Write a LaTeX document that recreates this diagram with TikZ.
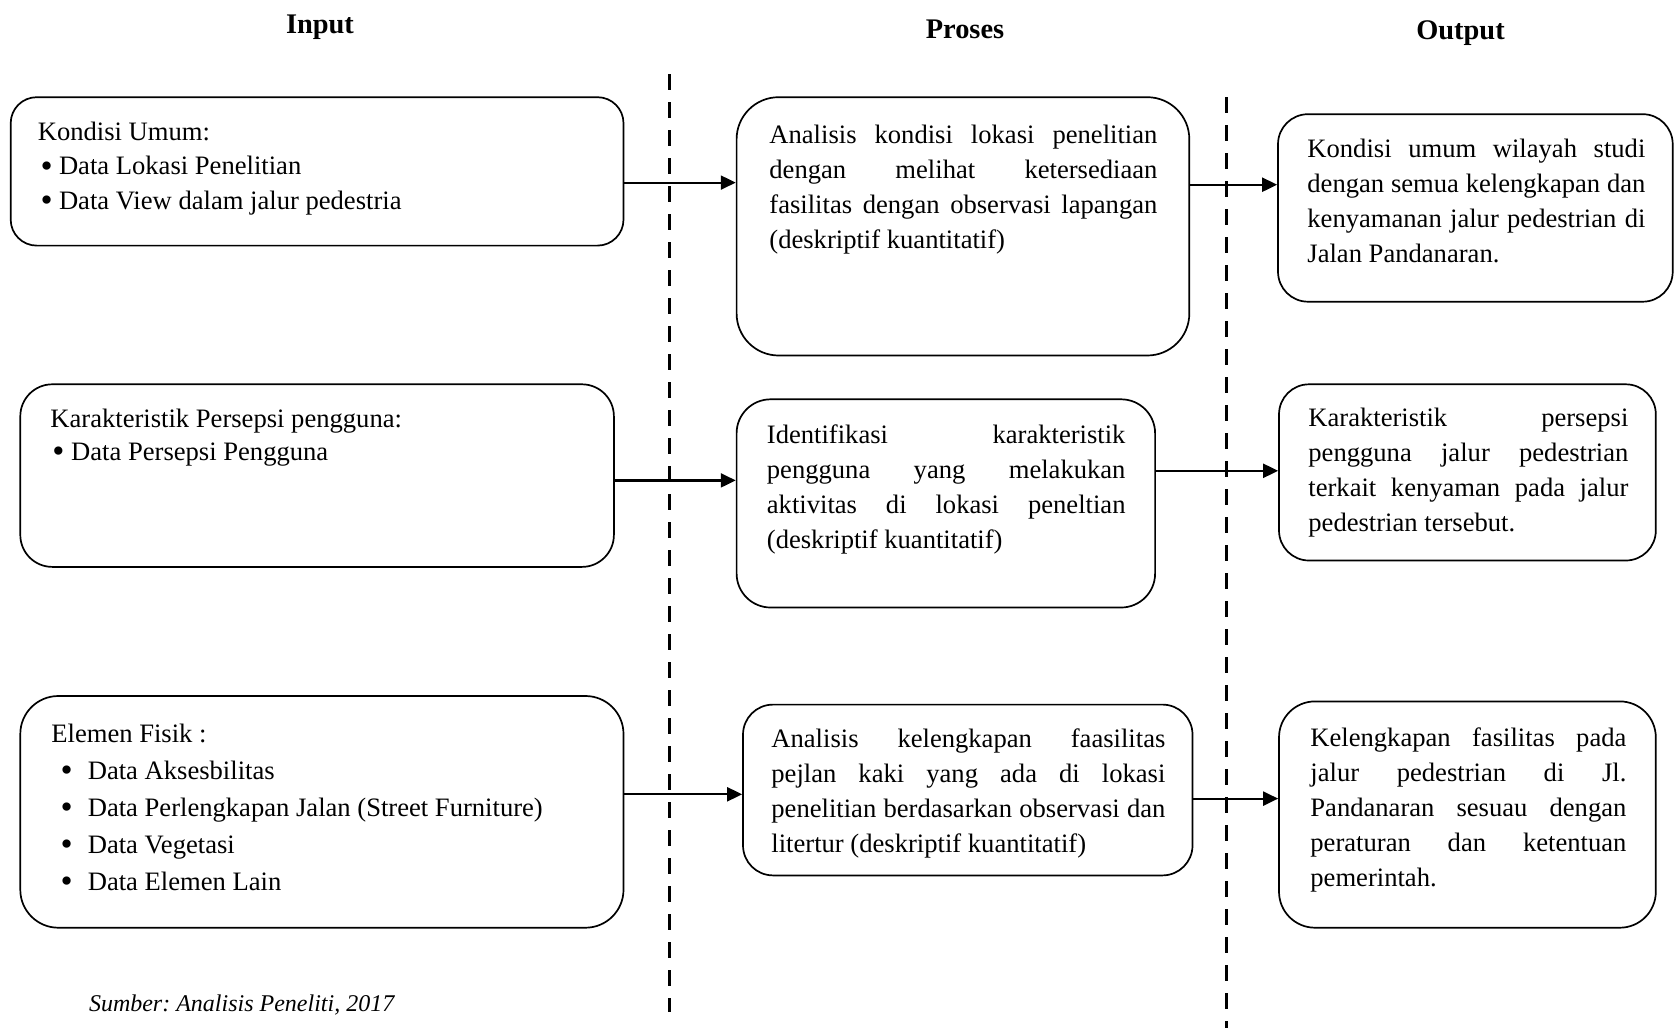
\documentclass[tikz,border=0pt]{standalone}
\usepackage{fontspec}
\usepackage{graphicx}
\setmainfont{Liberation Serif}
\usetikzlibrary{arrows.meta,fit}
\frenchspacing
\newcommand\tb[3]{\vtop{\hsize=#1\parindent=0pt\parskip=0pt\baselineskip=#2\relax #3}}
\newcommand\jl[1]{\makebox[\hsize][s]{#1}\par}
\newcommand\el[1]{#1\par}
\newcommand\bigbul{\raisebox{-0.09em}{\scalebox{1.3}{\textbullet}}}
\newcommand\bl[3]{\hspace*{#1}\makebox[#2][l]{\bigbul}#3\par}
\begin{document}
\begin{tikzpicture}[x=0.5pt,y=-0.5pt,
 box/.style={draw, line width=0.85pt, inner sep=0pt},
 txt/.style={inner sep=0pt, anchor=base west, font=\fontsize{13.3}{17.6}\selectfont},
 ttl/.style={inner sep=0pt, anchor=base, font=\fontsize{14.2}{16}\selectfont\bfseries},
 arr/.style={line width=1.1pt, -{Triangle[length=7.5pt,width=7pt]}},
 sepline/.style={line width=1.5pt, dash pattern=on 8pt off 6pt}]
\useasboundingbox (0,0) rectangle (1674,1028);
\fill[white] (0,0) rectangle (1674,1028);

% titles
\node[ttl] (tin) at (320,33) {Input};
\node[ttl] (tpr) at (965,38.4) {Proses};
\node[ttl] (tout) at (1460.5,39.5) {Output};

% separators
\draw[sepline] (669,74) -- (669,1012);
\draw[sepline] (1226,97) -- (1226,1028);

% input boxes
\node[box, rounded corners=13pt, fit={(10.7,97.2) (623.5,245.6)}] (a1) {};
\node[box, rounded corners=16pt, fit={(20.3,384.3) (613.9,566.9)}] (a2) {};
\node[box, rounded corners=19pt, fit={(20.3,696) (623.5,927.7)}] (a3) {};
% process boxes
\node[box, rounded corners=21pt, fit={(736.6,97.2) (1189.3,355.5)}] (p1) {};
\node[box, rounded corners=17pt, fit={(736.6,399.3) (1155.1,607.5)}] (p2) {};
\node[box, rounded corners=15pt, fit={(743,704.6) (1192.5,875.4)}] (p3) {};
% output boxes
\node[box, rounded corners=15pt, fit={(1278,114.2) (1672.7,301.7)}] (o1) {};
\node[box, rounded corners=15pt, fit={(1279,384.3) (1655.8,560.5)}] (o2) {};
\node[box, rounded corners=18pt, fit={(1279,701.4) (1655.8,927.7)}] (o3) {};

% texts
\node[txt] (a1t) at (37.4,140) {\tb{280pt}{17.4pt}{\el{Kondisi Umum:}\bl{1.4pt}{9.2pt}{Data Lokasi Penelitian}\bl{1.4pt}{9.2pt}{Data View dalam jalur pedestria}}};
\node[txt] (a2t) at (50,427) {\tb{280pt}{16.6pt}{\el{Karakteristik Persepsi pengguna:}\bl{1pt}{9.4pt}{Data Persepsi Pengguna}}};
\node[txt] (a3t) at (51,742) {\tb{280pt}{18.5pt}{\el{Elemen Fisik :}\bl{4.6pt}{13.6pt}{Data Aksesbilitas}\bl{4.6pt}{13.6pt}{Data Perlengkapan Jalan (Street Furniture)}\bl{4.6pt}{13.6pt}{Data Vegetasi}\bl{4.6pt}{13.6pt}{Data Elemen Lain}}};

\node[txt] (p1t) at (769,143) {\tb{194pt}{17.6pt}{\jl{Analisis kondisi lokasi penelitian}\jl{dengan melihat ketersediaan}\jl{fasilitas dengan observasi lapangan}\el{(deskriptif kuantitatif)}}};
\node[txt] (p2t) at (766.5,443) {\tb{179.3pt}{17.6pt}{\jl{Identifikasi karakteristik}\jl{pengguna yang melakukan}\jl{aktivitas di lokasi peneltian}\el{(deskriptif kuantitatif)}}};
\node[txt] (p3t) at (771,747) {\tb{197pt}{17.6pt}{\jl{Analisis kelengkapan faasilitas}\jl{pejlan kaki yang ada di lokasi}\jl{penelitian berdasarkan observasi dan}\el{litertur (deskriptif kuantitatif)}}};

\node[txt] (o1t) at (1307,157) {\tb{169pt}{17.6pt}{\jl{Kondisi umum wilayah studi}\jl{dengan semua kelengkapan dan}\jl{kenyamanan jalur pedestrian di}\el{Jalan Pandanaran.}}};
\node[txt] (o2t) at (1308,426) {\tb{160pt}{17.6pt}{\jl{Karakteristik persepsi}\jl{pengguna jalur pedestrian}\jl{terkait kenyaman pada jalur}\el{pedestrian tersebut.}}};
\node[txt] (o3t) at (1310,746) {\tb{158pt}{17.6pt}{\jl{Kelengkapan fasilitas pada}\jl{jalur pedestrian di Jl.}\jl{Pandanaran sesuau dengan}\jl{peraturan dan ketentuan}\el{pemerintah.}}};

\node[txt, font=\fontsize{12}{14}\selectfont\itshape] (src) at (88.6,1011) {Sumber: Analisis Peneliti, 2017};

% arrows
\coordinate (y1) at (0,182.6);
\coordinate (y2) at (0,480.4);
\coordinate (y3) at (0,794.3);
\coordinate (y4) at (0,184.7);
\coordinate (y5) at (0,470.8);
\coordinate (y6) at (0,798.6);
\draw[arr] (a1.east |- y1) -- (p1.west |- y1);
\draw[arr] (a2.east |- y2) -- (p2.west |- y2);
\draw[arr] (a3.east |- y3) -- (p3.west |- y3);
\draw[arr] (p1.east |- y4) -- (o1.west |- y4);
\draw[arr] (p2.east |- y5) -- (o2.west |- y5);
\draw[arr] (p3.east |- y6) -- (o3.west |- y6);
\end{tikzpicture}
\end{document}
